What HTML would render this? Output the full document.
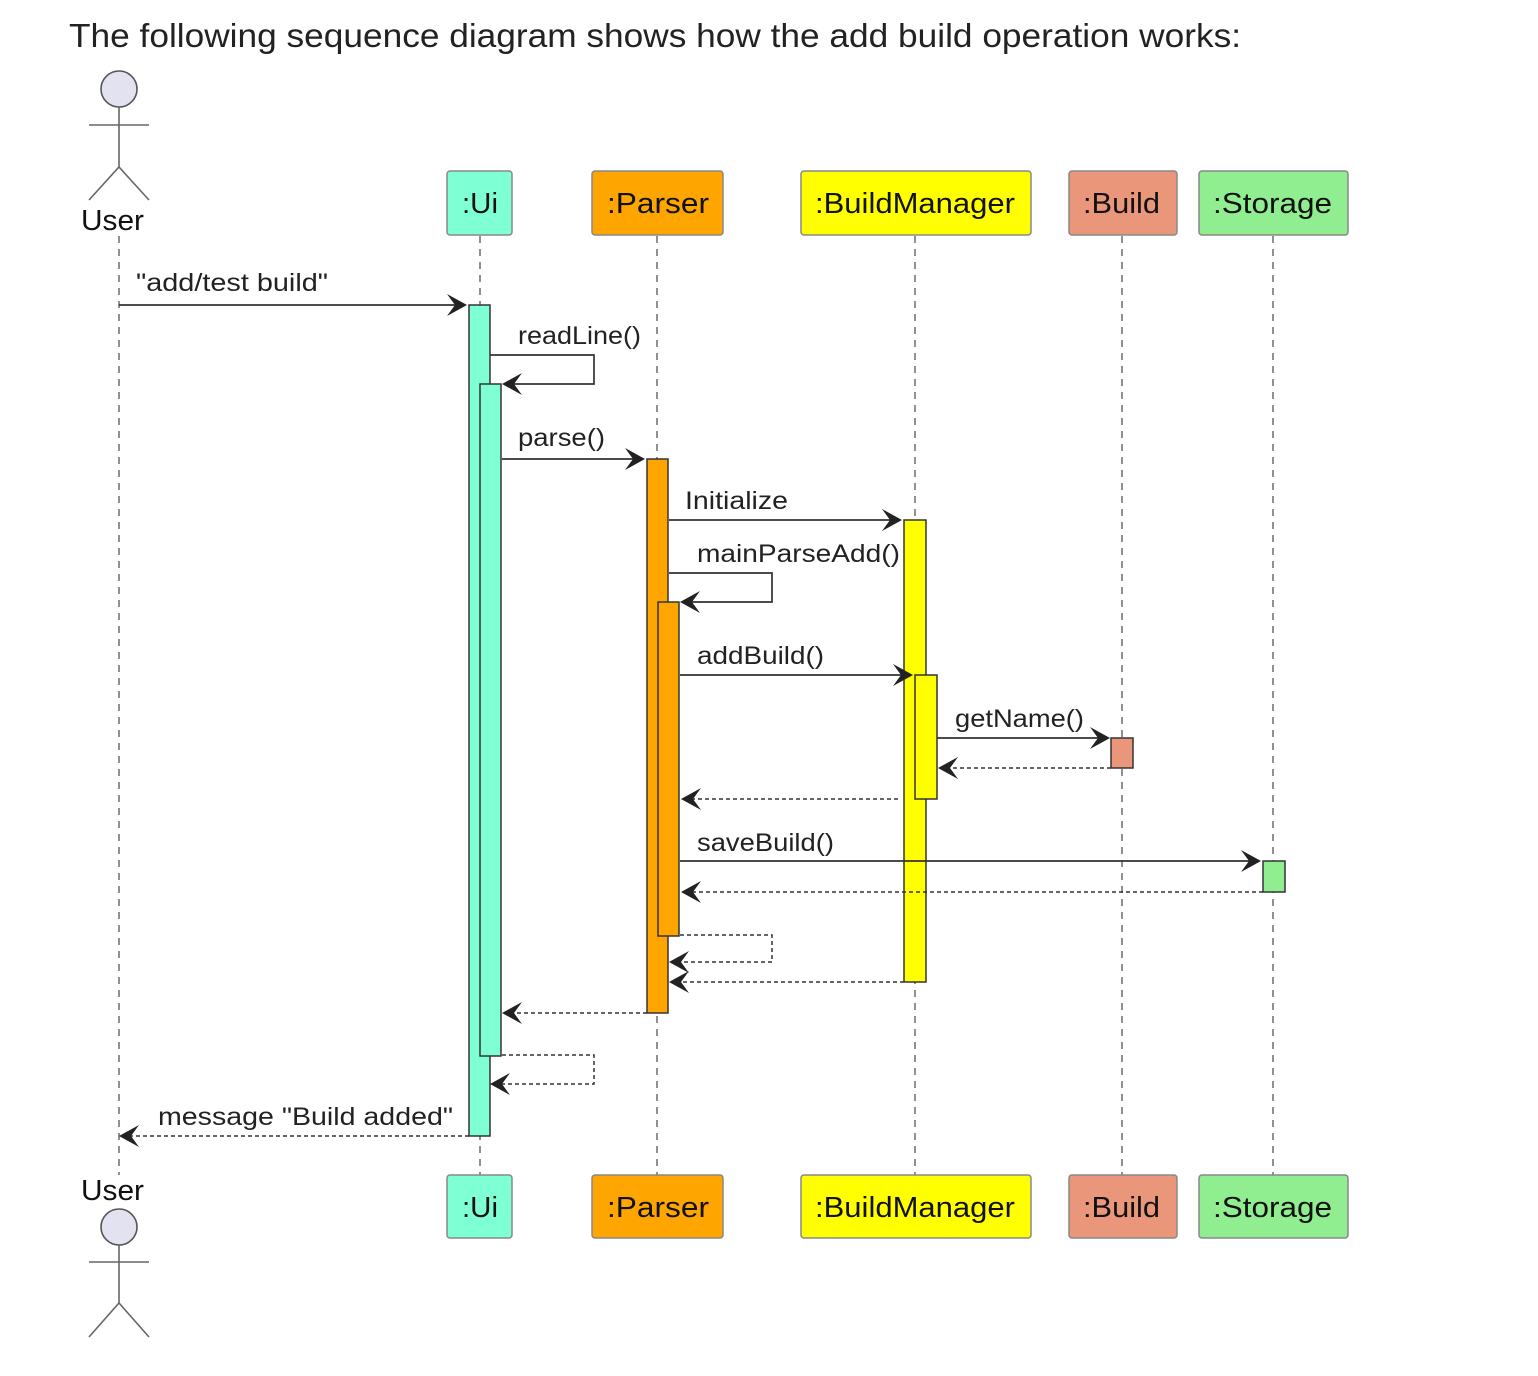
<!DOCTYPE html>
<html><head><meta charset="utf-8"><style>
body{margin:0;background:#fff;width:1538px;height:1376px;overflow:hidden}
svg{position:absolute;left:0;top:0}
.t{font-family:"Liberation Sans",sans-serif;fill:#222}
.h{font-family:"Liberation Sans",sans-serif;font-size:29px;fill:#111}
.m{font-family:"Liberation Sans",sans-serif;font-size:25px;fill:#222}
</style></head><body>
<svg width="1538" height="1376" viewBox="0 0 1538 1376" xmlns="http://www.w3.org/2000/svg">
<text x="69" y="47" class="t" font-size="33" textLength="1172" lengthAdjust="spacingAndGlyphs">The following sequence diagram shows how the add build operation works:</text>
<g stroke="#555" stroke-width="1.3" stroke-dasharray="7,6" fill="none">
<line x1="119" y1="236" x2="119" y2="1175"/>
<line x1="480" y1="236" x2="480" y2="1175"/>
<line x1="657" y1="236" x2="657" y2="1175"/>
<line x1="915" y1="236" x2="915" y2="1175"/>
<line x1="1122" y1="236" x2="1122" y2="1175"/>
<line x1="1273" y1="236" x2="1273" y2="1175"/>
</g>
<g stroke="#666" stroke-width="1.6" fill="none">
<ellipse cx="119" cy="89" rx="18" ry="18" fill="#e2e2f0" stroke="#555"/>
<line x1="119" y1="107" x2="119" y2="167"/><line x1="89" y1="125" x2="149" y2="125"/>
<polyline points="89,200 119,167 149,200"/>
<ellipse cx="119" cy="1227" rx="18" ry="18" fill="#e2e2f0" stroke="#555"/>
<line x1="119" y1="1245" x2="119" y2="1303"/><line x1="89" y1="1262" x2="149" y2="1262"/>
<polyline points="89,1337 119,1303 149,1337"/>
</g>
<text x="81" y="230" class="h" textLength="63" lengthAdjust="spacingAndGlyphs">User</text>
<text x="81" y="1200" class="h" textLength="63" lengthAdjust="spacingAndGlyphs">User</text>
<g stroke="#888" stroke-width="1.5">
<rect x="447" y="171" width="65" height="64" rx="3" fill="#7fffd4"/>
<rect x="592" y="171" width="131" height="64" rx="3" fill="#ffa500"/>
<rect x="801" y="171" width="230" height="64" rx="3" fill="#ffff00"/>
<rect x="1069" y="171" width="108" height="64" rx="3" fill="#e9967a"/>
<rect x="1199" y="171" width="149" height="64" rx="3" fill="#90ee90"/>
<rect x="447" y="1175" width="65" height="63" rx="3" fill="#7fffd4"/>
<rect x="592" y="1175" width="131" height="63" rx="3" fill="#ffa500"/>
<rect x="801" y="1175" width="230" height="63" rx="3" fill="#ffff00"/>
<rect x="1069" y="1175" width="108" height="63" rx="3" fill="#e9967a"/>
<rect x="1199" y="1175" width="149" height="63" rx="3" fill="#90ee90"/>
</g>
<g class="h" lengthAdjust="spacingAndGlyphs">
<text x="462" y="213" textLength="36" lengthAdjust="spacingAndGlyphs">:Ui</text>
<text x="607" y="213" textLength="102" lengthAdjust="spacingAndGlyphs">:Parser</text>
<text x="815" y="213" textLength="200" lengthAdjust="spacingAndGlyphs">:BuildManager</text>
<text x="1083" y="213" textLength="77" lengthAdjust="spacingAndGlyphs">:Build</text>
<text x="1213" y="213" textLength="119" lengthAdjust="spacingAndGlyphs">:Storage</text>
<text x="462" y="1217" textLength="36" lengthAdjust="spacingAndGlyphs">:Ui</text>
<text x="607" y="1217" textLength="102" lengthAdjust="spacingAndGlyphs">:Parser</text>
<text x="815" y="1217" textLength="200" lengthAdjust="spacingAndGlyphs">:BuildManager</text>
<text x="1083" y="1217" textLength="77" lengthAdjust="spacingAndGlyphs">:Build</text>
<text x="1213" y="1217" textLength="119" lengthAdjust="spacingAndGlyphs">:Storage</text>
</g>
<g stroke="#333" stroke-width="1.5">
<rect x="469" y="305" width="21" height="831" fill="#7fffd4"/>
<rect x="480" y="384" width="21" height="672" fill="#7fffd4"/>
<rect x="647" y="459" width="21" height="554" fill="#ffa500"/>
<rect x="658" y="602" width="21" height="334" fill="#ffa500"/>
<rect x="904" y="520" width="22" height="462" fill="#ffff00"/>
<rect x="915" y="675" width="22" height="124" fill="#ffff00"/>
<rect x="1111" y="738" width="22" height="30" fill="#e9967a"/>
<rect x="1263" y="861" width="22" height="31" fill="#90ee90"/>
</g>
<g stroke="#333" stroke-width="1.7" fill="none">
<line x1="119" y1="305" x2="462" y2="305"/>
<polyline points="490,355 594,355 594,384 508,384"/>
<line x1="502" y1="459" x2="640" y2="459"/>
<line x1="669" y1="520" x2="897" y2="520"/>
<polyline points="669,573 772,573 772,602 686,602"/>
<line x1="680" y1="675" x2="908" y2="675"/>
<line x1="937" y1="738" x2="1104" y2="738"/>
<line x1="680" y1="861" x2="1256" y2="861"/>
</g>
<g stroke="#333" stroke-width="1.5" fill="none" stroke-dasharray="4,3">
<line x1="1111" y1="768" x2="944" y2="768"/>
<line x1="898" y1="799" x2="687" y2="799"/>
<line x1="1263" y1="892" x2="687" y2="892"/>
<polyline points="680,935 772,935 772,962 676,962"/>
<line x1="904" y1="982" x2="676" y2="982"/>
<line x1="647" y1="1013" x2="508" y2="1013"/>
<polyline points="502,1055 594,1055 594,1084 496,1084"/>
<line x1="469" y1="1136" x2="126" y2="1136"/>
</g>
<g fill="#222">
<polygon points="467,305 447,294 455,305 447,316"/>
<polygon points="645,459 625,448 633,459 625,470"/>
<polygon points="902,520 882,509 890,520 882,531"/>
<polygon points="913,675 893,664 901,675 893,686"/>
<polygon points="1110,738 1090,727 1098,738 1090,749"/>
<polygon points="1261,861 1241,850 1249,861 1241,872"/>
<polygon points="502,384 522,373 514,384 522,395"/>
<polygon points="680,602 700,591 692,602 700,613"/>
<polygon points="938,768 958,757 950,768 958,779"/>
<polygon points="681,799 701,788 693,799 701,810"/>
<polygon points="681,892 701,881 693,892 701,903"/>
<polygon points="669,962 689,951 681,962 689,973"/>
<polygon points="669,982 689,971 681,982 689,993"/>
<polygon points="502,1013 522,1002 514,1013 522,1024"/>
<polygon points="490,1084 510,1073 502,1084 510,1095"/>
<polygon points="119,1136 139,1125 131,1136 139,1147"/>
</g>
<g class="m">
<text x="136" y="291" textLength="192" lengthAdjust="spacingAndGlyphs">"add/test build"</text>
<text x="518" y="344" textLength="123" lengthAdjust="spacingAndGlyphs">readLine()</text>
<text x="518" y="446" textLength="87" lengthAdjust="spacingAndGlyphs">parse()</text>
<text x="685" y="509" textLength="103" lengthAdjust="spacingAndGlyphs">Initialize</text>
<text x="697" y="562" textLength="203" lengthAdjust="spacingAndGlyphs">mainParseAdd()</text>
<text x="697" y="664" textLength="127" lengthAdjust="spacingAndGlyphs">addBuild()</text>
<text x="955" y="727" textLength="129" lengthAdjust="spacingAndGlyphs">getName()</text>
<text x="697" y="851" textLength="137" lengthAdjust="spacingAndGlyphs">saveBuild()</text>
<text x="158" y="1125" textLength="295" lengthAdjust="spacingAndGlyphs">message "Build added"</text>
</g>
</svg>
</body></html>
